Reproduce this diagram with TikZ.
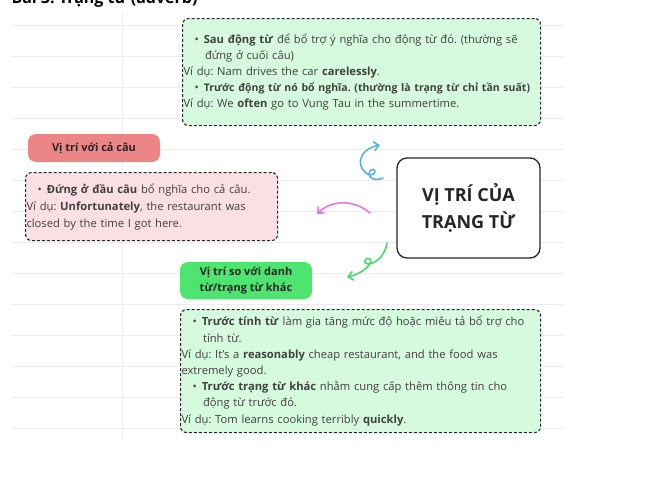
\documentclass[tikz,border=0pt]{standalone}
\usepackage{fontspec}
\setmainfont{Open Sans}
\usepackage{xcolor}
\usetikzlibrary{arrows.meta,positioning}
\definecolor{mintbg}{RGB}{214,250,222}
\definecolor{rosebg}{RGB}{250,224,229}
\definecolor{salmon}{RGB}{236,134,134}
\definecolor{leaf}{RGB}{78,228,112}
\definecolor{skyline}{RGB}{82,182,212}
\definecolor{orchid}{RGB}{230,122,212}
\definecolor{sprout}{RGB}{72,218,112}
\definecolor{ruling}{RGB}{236,236,238}
\newcommand{\bul}{\hspace*{11pt}\textbullet\hspace{5pt}}
\newcommand{\hang}{\hspace*{21.5pt}}
\frenchspacing

\begin{document}
\begin{tikzpicture}[x=1pt, y=-1pt,
  note/.style={draw=black!85, line width=1.1pt, dash pattern=on 3pt off 2pt,
    rounded corners=6pt, anchor=north west, align=left, inner sep=1pt,
    text=black!75, font=\fontsize{11.2}{16}\selectfont},
  tag/.style={rounded corners=8pt, align=center, text=black!85,
    font=\bfseries\fontsize{11}{16}\selectfont},
  squiggle/.style={-{Straight Barb[length=5pt,width=9pt]}, line width=1.6pt,
    line cap=round, line join=round}]
  \clip (0,0) rectangle (645,501);
  % notebook page
  \foreach \y in {25,56,...,430}
    \draw[ruling, line width=0.9pt] (12,\y) -- (563,\y);
  \draw[ruling, line width=0.9pt] (122,12) -- (122,440);
  \node[anchor=base west, font=\bfseries\fontsize{16}{16}\selectfont] (title)
    at (8,3) {Bài 3: Trạng từ (adverb)};

  % centre
  \node[draw=black!85, line width=1.3pt, rounded corners=10pt, fill=white,
    minimum width=143pt, minimum height=100pt, align=center,
    font=\bfseries\fontsize{18}{27}\selectfont, text=black!85] (main)
    at (468.5,208) {VỊ TRÍ CỦA\\TRẠNG TỪ};

  % after / before the verb
  \node[note, fill=mintbg, text width=356pt, minimum height=107pt] (verbBox)
    at (182,18) {\bul\textbf{Sau động từ} để bổ trợ ý nghĩa cho động từ đó. (thường sẽ\\
    \hang đứng ở cuối câu)\\
    Ví dụ: Nam drives the car \textbf{carelessly}.\\
    \bul{\fontsize{10.5}{16}\selectfont\textbf{Trước động từ nó bổ nghĩa. (thường là trạng từ chỉ tần suất)}}\\
    Ví dụ: We \textbf{often} go to Vung Tau in the summertime.};

  % whole sentence
  \node[tag, fill=salmon, minimum width=132pt, minimum height=28pt] (sentHead)
    at (94,148) {Vị trí với cả câu};
  \node[note, fill=rosebg, text width=250pt, minimum height=68pt,
    font=\fontsize{11.2}{17}\selectfont] (sentBox)
    at (25,172) {\bul\textbf{Đứng ở đầu câu} bổ nghĩa cho cả câu.\\
    Ví dụ: \textbf{Unfortunately}, the restaurant was\\
    closed by the time I got here.};

  % adjectives / other adverbs
  \node[tag, fill=leaf, minimum width=132pt, minimum height=37pt] (nounHead)
    at (246,280.5) {Vị trí so với danh\\từ/trạng từ khác};
  \node[note, fill=mintbg, text width=358pt, minimum height=123pt,
    font=\fontsize{11.2}{16.2}\selectfont] (nounBox)
    at (180,309) {\bul\textbf{Trước tính từ} làm gia tăng mức độ hoặc miêu tả bổ trợ cho\\
    \hang tính từ.\\
    Ví dụ: It’s a \textbf{reasonably} cheap restaurant, and the food was\\
    extremely good.\\
    \bul\textbf{Trước trạng từ khác} nhằm cung cấp thêm thông tin cho\\
    \hang động từ trước đó.\\
    Ví dụ: Tom learns cooking terribly \textbf{quickly}.};

  % hand-drawn arrows
  \coordinate (blueS) at (383,178);
  \coordinate (blueE) at (380,145);
  \coordinate (pinkS) at (370,213);
  \coordinate (pinkE) at (317,214);
  \coordinate (greenS) at (387,243);
  \coordinate (greenE) at (347,277);
  \draw[squiggle, skyline] (blueS) .. controls (375,182) and (366,177) .. (370,171)
    .. controls (374,166) and (379,174) .. (370,175)
    .. controls (356,170) and (356,150) .. (blueE);
  \draw[squiggle, orchid] (pinkS) .. controls (355,200) and (332,199) .. (pinkE);
  \draw[squiggle, sprout] (greenS) .. controls (385,255) and (377,263) .. (368,264)
    .. controls (362,264) and (365,256) .. (370,259)
    .. controls (374,263) and (362,274) .. (greenE);
\end{tikzpicture}
\end{document}
